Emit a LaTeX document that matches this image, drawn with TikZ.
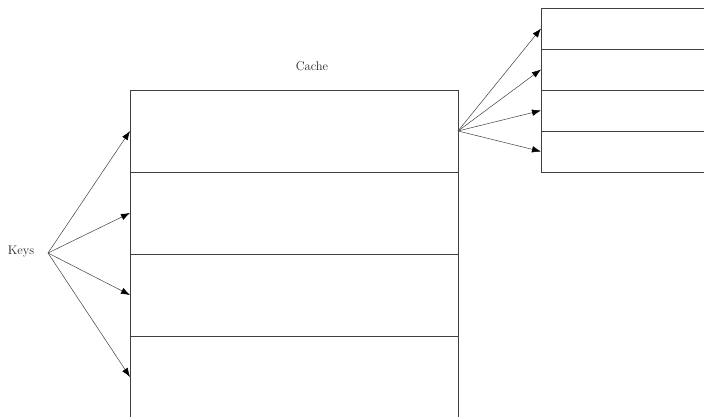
\documentclass[tikz,border=0pt]{standalone}
\usetikzlibrary{arrows.meta}
\begin{document}
\begin{tikzpicture}[x=1pt,y=-1pt,
  rowbox/.style={draw=black!75, line width=0.55pt, minimum width=328pt, minimum height=82pt, inner sep=0pt, outer sep=0pt},
  smallrow/.style={draw=black!75, line width=0.55pt, minimum width=200pt, minimum height=41pt, inner sep=0pt, outer sep=0pt},
  lbl/.style={font=\fontsize{12.5}{15}\selectfont, text=black!85, inner sep=0pt},
  arr/.style={draw=black!75, line width=0.5pt, -{Latex[length=9pt,width=6.5pt,fill=black,color=black]}}]
\useasboundingbox (0,0) rectangle (704,417);
\clip (0,0) rectangle (704,417);
\fill[white] (0,0) rectangle (704,417);
% Cache rows
\node[rowbox] (c1) at (294,131) {};
\node[rowbox] (c2) at (294,213) {};
\node[rowbox] (c3) at (294,295) {};
\node[rowbox] (c4) at (294,377) {};
% right table rows
\node[smallrow] (r1) at (641,28.5) {};
\node[smallrow] (r2) at (641,69.5) {};
\node[smallrow] (r3) at (641,110.5) {};
\node[smallrow] (r4) at (641,151.5) {};
% labels
\node[lbl] (cache) at (312,66) {Cache};
\node[lbl] (keys) at (21,252) {Keys};
\coordinate (kp) at (48,253);
% arrows
\foreach \i in {1,...,4} {
  \draw[arr] (kp) -- (c\i.west);
  \draw[arr] (c1.east) -- (r\i.west);
}
\end{tikzpicture}
\end{document}
